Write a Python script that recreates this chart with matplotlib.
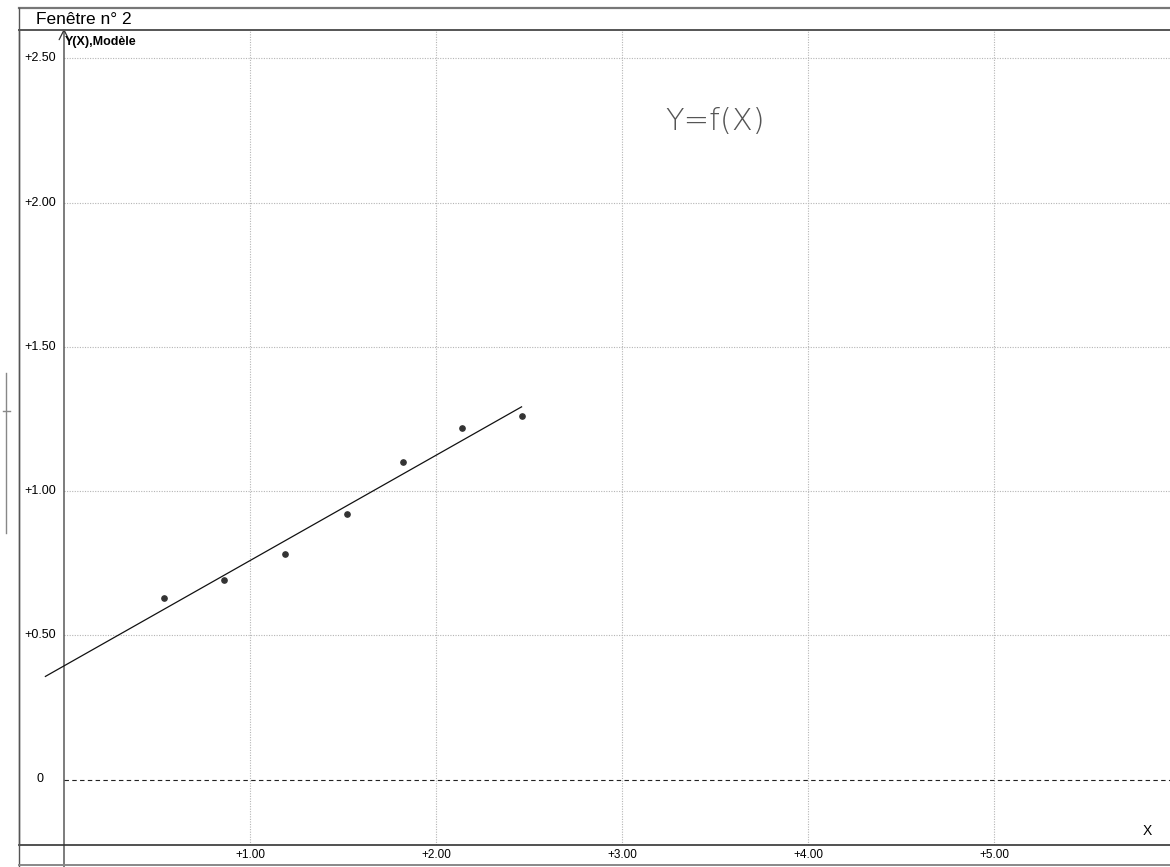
import matplotlib
matplotlib.use("Agg")
import matplotlib.pyplot as plt
from matplotlib.lines import Line2D
import numpy as np

# measured points
x_mes = [0.54, 0.86, 1.19, 1.52, 1.82, 2.14, 2.46]
y_mes = [0.63, 0.69, 0.78, 0.92, 1.10, 1.22, 1.26]

x_ticks = [1, 2, 3, 4, 5]
y_ticks = [0, 0.5, 1.0, 1.5, 2.0, 2.5]
model_start = -0.1

W, H = 1170, 867
fig = plt.figure(figsize=(W / 100, H / 100), dpi=100)
plt.rcParams['font.family'] = ['Liberation Sans', 'DejaVu Sans']

# window frame (pixels from top-left)
left_px, right_px = 19, 1170
top_px, bot_px = 30, 845
ax = fig.add_axes([left_px / W, (H - bot_px) / H,
                   (right_px - left_px) / W, (bot_px - top_px) / H])

# data scale: x=0 at 64 px, 186 px per unit; y=0 at 779.5 px, 288.5 px per unit
x0, sx = 64, 186
y0, sy = 779.5, 288.5
xmin, xmax = (left_px - x0) / sx, (right_px - x0) / sx
ymin, ymax = (y0 - bot_px) / sy, (y0 - top_px) / sy
ax.set_xlim(xmin, xmax)
ax.set_ylim(ymin, ymax)

for s in ['top', 'right']:
    ax.spines[s].set_visible(False)
ax.spines['left'].set_color('#555555')
ax.spines['bottom'].set_color('#333333')
ax.spines['left'].set_linewidth(1.0)
ax.spines['bottom'].set_linewidth(1.2)

# grid only to the right of the y axis
grid_kw = dict(color='#b5b5b5', lw=0.8, linestyle=(0, (1, 1.3)), zorder=1)
for yv in y_ticks[1:]:
    ax.plot([0, xmax], [yv, yv], **grid_kw)
for xv in x_ticks:
    ax.plot([xv, xv], [ymin, ymax], **grid_kw)
ax.plot([0, xmax], [0, 0], color='#222222', lw=0.8, linestyle=(0, (4, 3)), zorder=2)

# y axis with arrow, running down past the frame
ax.annotate('', xy=(0, ymax + 0.005), xytext=(0, (y0 - H) / sy),
            arrowprops=dict(arrowstyle='->,head_length=0.5,head_width=0.25',
                            lw=0.9, color='#333333',
                            mutation_scale=14, shrinkA=0, shrinkB=0),
            annotation_clip=False)

# ticks
ax.set_xticks(x_ticks)
ax.set_xticklabels([f'+{v:.2f}' for v in x_ticks], fontsize=8.5)
ax.tick_params(axis='x', length=0, pad=3)
ax.set_yticks([])
for yv in y_ticks:
    lab = '0' if yv == 0 else f'+{yv:.2f}'
    ax.text(-0.13, yv, lab, ha='center', va='center', fontsize=9)

# fitted model and measurements
a, b = np.polyfit(x_mes, y_mes, 1)
xm = np.array([model_start, max(x_mes)])
ax.plot(xm, a * xm + b, color='#111111', lw=0.9, zorder=3)
ax.plot(x_mes, y_mes, 'o', color='#333333', ms=3.8, zorder=4)

ax.text(0.005, (y0 - 42) / sy, 'Y(X),Modèle', ha='left', va='center',
        fontsize=9, fontweight='bold')
ax.text((1147 - x0) / sx, (y0 - 831) / sy, 'X', ha='center', va='center', fontsize=10)
ax.text((715 - x0) / sx, (y0 - 122) / sy, 'Y=f(X)', ha='center', va='center',
        fontsize=22, color='#555555', family=['DejaVu Sans'], fontweight='light')

# title bar and outer frame
def fig_line(xs, ys, **kw):
    fig.add_artist(Line2D([v / W for v in xs], [1 - v / H for v in ys], **kw))

fig_line([left_px, right_px], [8, 8], color='#777777', lw=1.6)
fig_line([left_px, right_px], [top_px, top_px], color='#555555', lw=1.4)
fig_line([left_px, left_px], [8, H], color='#555555', lw=1.0)
fig_line([left_px, right_px], [865, 865], color='#888888', lw=1.4)
fig_line([6, 6], [373, 533], color='#888888', lw=1.0)
fig_line([3, 10], [411, 411], color='#888888', lw=1.0)
fig.text(36 / W, 1 - 20 / H, 'Fenêtre n° 2', ha='left', va='center', fontsize=12.5)

fig.savefig('out.png', dpi=100)
